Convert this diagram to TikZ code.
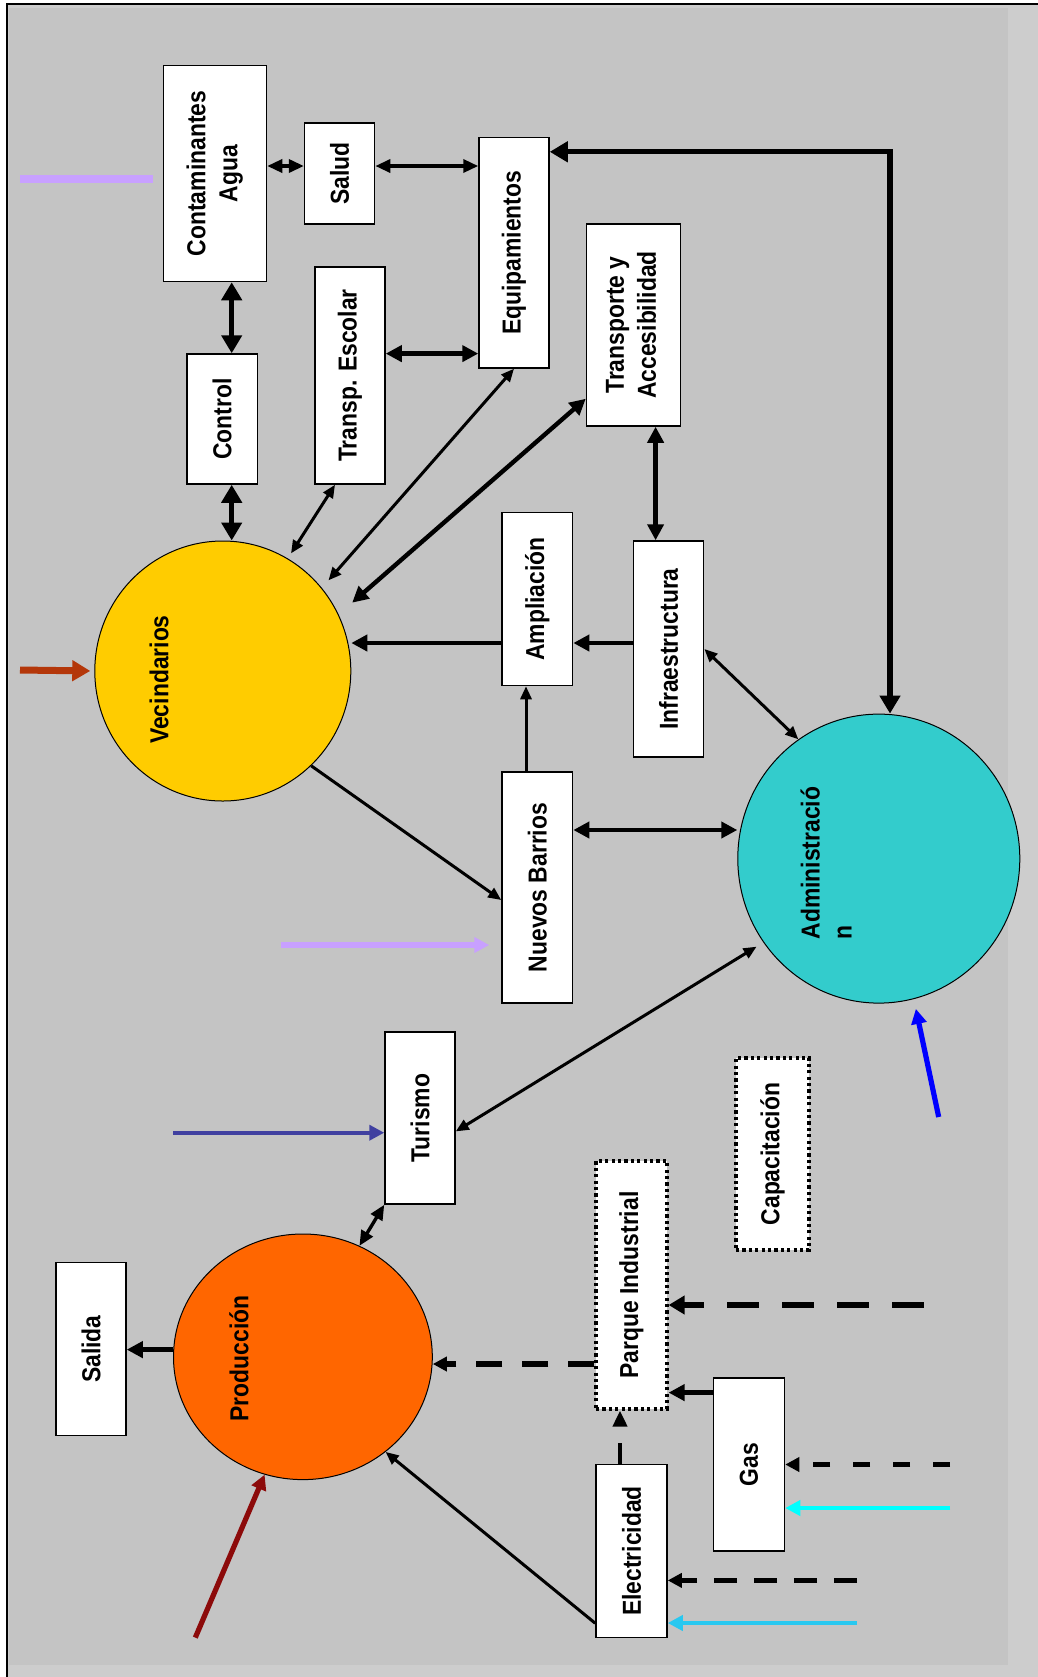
\documentclass[tikz,border=0pt]{standalone}
\usepackage{fontspec}
\usepackage{graphicx}
\usetikzlibrary{arrows.meta,shapes.geometric}
\newfontfamily\labfont{Liberation Sans}[FakeStretch=0.88]
\definecolor{bgA}{RGB}{196,196,196}
\definecolor{bgB}{RGB}{205,205,205}
\definecolor{vecY}{RGB}{255,204,0}
\definecolor{admC}{RGB}{51,204,204}
\definecolor{prodO}{RGB}{255,102,0}
\definecolor{lav}{RGB}{200,160,255}
\definecolor{rust}{RGB}{180,55,10}
\definecolor{dred}{RGB}{140,10,10}
\definecolor{navyP}{RGB}{64,64,160}
\definecolor{skyB}{RGB}{40,200,240}
\definecolor{cyanB}{RGB}{0,255,255}
\definecolor{pureB}{RGB}{0,0,255}
\tikzset{
  every node/.style={font={\labfont\bfseries\fontsize{13pt}{16pt}\selectfont}, text=black},
  box/.style={draw=black, line width=0.75pt, fill=white, inner sep=0pt},
  dbox/.style={draw=black, line width=1.6pt, dash pattern=on 1.6pt off 1.6pt, fill=white, inner sep=0pt},
  circ/.style={ellipse, draw=black, line width=0.5pt, inner sep=0pt},
  thinA/.style={line width=1.5pt, >={Triangle[length=6.5pt,width=5.5pt]}},
  medA/.style={line width=1.7pt, >={Triangle[length=7.5pt,width=6.5pt]}},
  thickA/.style={line width=2.2pt, >={Triangle[length=8pt,width=8pt]}},
  heavyA/.style={line width=2.6pt, >={Triangle[length=9pt,width=10pt]}},
  colA/.style={line width=2.2pt, >={Triangle[length=7.5pt,width=7.5pt]}},
  dashU/.style={line width=3.4pt, dash pattern=on 15.8pt off 11.7pt, >={Triangle[length=8pt,width=9pt]}},
  dashX/.style={line width=2.6pt, dash pattern=on 8.3pt off 11.7pt, >={Triangle[length=7pt,width=7pt]}},
  dashZ/.style={line width=2.8pt, dash pattern=on 11.7pt off 8.3pt, >={Triangle[length=7pt,width=7pt]}},
  dashA/.style={line width=2.6pt, dash pattern=on 13pt off 10pt, >={Triangle[length=7pt,width=7pt]}},
  dashW/.style={line width=2pt, dash pattern=on 10.5pt off 9pt, >={Triangle[length=8pt,width=7pt]}},
}
\begin{document}
\begin{tikzpicture}[x=0.5pt,y=-0.5pt]
\useasboundingbox (0,0) rectangle (1038,1677);
% background
\fill[white] (0,0) rectangle (1038,1677);
\fill[bgB] (7,4) rectangle (1038,1677);
\fill[bgA] (9,8) rectangle (1008,1665);
\draw[line width=1pt] (7,1677) -- (7,4) -- (1038,4);

% boxes
\node[box, minimum width=51.5pt, minimum height=108pt] (cont) at (215,173.5)
  {\rotatebox{90}{\begin{tabular}{@{}c@{}}Contaminantes\\Agua\end{tabular}}};
\node[box, minimum width=35pt, minimum height=50.5pt] (salud) at (339.6,173.5) {\rotatebox{90}{Salud}};
\node[box, minimum width=35pt, minimum height=115.25pt] (equip) at (514,252.7) {\rotatebox{90}{Equipamientos}};
\node[box, minimum width=35pt, minimum height=108.5pt] (transp) at (350,375.5) {\rotatebox{90}{Transp. Escolar}};
\node[box, minimum width=35.25pt, minimum height=65pt] (control) at (222,419) {\rotatebox{90}{Control}};
\node[box, minimum width=47pt, minimum height=101pt] (trans) at (633.5,325)
  {\rotatebox{90}{\begin{tabular}{@{}c@{}}Transporte y\\Accesibilidad\end{tabular}}};
\node[box, minimum width=35.3pt, minimum height=86.5pt] (ampl) at (537.3,599) {\rotatebox{90}{Ampliación}};
\node[box, minimum width=35pt, minimum height=108pt] (infra) at (668.6,649) {\rotatebox{90}{Infraestructura}};
\node[box, minimum width=35.3pt, minimum height=115.5pt] (nuevos) at (537.3,887.5) {\rotatebox{90}{Nuevos Barrios}};
\node[box, minimum width=35pt, minimum height=86pt] (turismo) at (420,1118) {\rotatebox{90}{Turismo}};
\node[box, minimum width=35pt, minimum height=86.5pt] (salida) at (91,1349) {\rotatebox{90}{Salida}};
\node[dbox, minimum width=35.5pt, minimum height=124pt] (parque) at (631.5,1285) {\rotatebox{90}{Parque Industrial}};
\node[dbox, minimum width=36.5pt, minimum height=96pt] (capac) at (772.5,1154) {\rotatebox{90}{Capacitación}};
\node[box, minimum width=35.5pt, minimum height=86.5pt] (gas) at (749,1464.5) {\rotatebox{90}{Gas}};
\node[box, minimum width=35.5pt, minimum height=86.5pt] (elec) at (631.5,1551) {\rotatebox{90}{Electricidad}};

% circles
\node[circ, fill=vecY, minimum width=128pt, minimum height=130pt] (vec) at (222.8,671) {};
\node[rotate=90] (vectxt) at (159,679.5) {Vecindarios};
\node[circ, fill=admC, minimum width=141pt, minimum height=144.5pt] (admin) at (878.8,858.6) {};
\node[rotate=90, align=left] (admtxt) at (826,863) {Administració\\n};
\node[circ, fill=prodO, minimum width=129.4pt, minimum height=122.8pt] (prod) at (302.9,1356.8) {};
\node[rotate=90] (prodtxt) at (239,1358.5) {Producción};

% helper coordinates
\coordinate (ya) at (0,166);
\coordinate (xc) at (231.7,0);
\coordinate (ye) at (0,353.6);
\coordinate (xi) at (655.6,0);
\coordinate (yj) at (0,643);
\coordinate (xl) at (526,0);
\coordinate (yn) at (0,830);
\coordinate (xp) at (890,0);
\coordinate (yp) at (0,151.8);
\coordinate (ys) at (0,1349.6);
\coordinate (yt) at (0,1364);
\coordinate (yu) at (0,1305);
\coordinate (yv) at (0,1392.6);
\coordinate (xw) at (620,0);
\coordinate (yy) at (0,1508);
\coordinate (yz) at (0,1580.4);
\coordinate (yaa) at (0,1623);
\coordinate (yee) at (0,1132.7);
\coordinate (yff) at (0,945);
\coordinate (ygg) at (0,179);
% free ends
\coordinate (uS) at (923.5,1305);
\coordinate (xS) at (950,1464.5);
\coordinate (yS) at (950,1508);
\coordinate (zS) at (857,1580.4);
\coordinate (aaS) at (857,1623);
\coordinate (ccS) at (195.3,1637.6);
\coordinate (ddS) at (938.7,1117);
\coordinate (eeS) at (173.4,1132.7);
\coordinate (ffS) at (281,945);
\coordinate (ggS) at (20,179);
\coordinate (hhS) at (20,670);

% connectors
\draw[medA,<->] (cont.east |- ya) -- (salud.west |- ya);
\draw[medA,<->] (salud.east |- ya) -- (equip.west |- ya);
\draw[heavyA,<->] (cont.south -| xc) -- (control.north -| xc);
\draw[heavyA,<->] (control.south -| xc) -- (vec.north -| xc);
\draw[thickA,<->] (transp.east |- ye) -- (equip.west |- ye);
\draw[thinA,<->,shorten >=3pt] ([xshift=-7.5pt]transp.south) -- (vec.60);
\draw[thinA,<->,shorten >=5pt] (equip.south) -- (vec.40);
\draw[thickA,<->,shorten >=9pt] ([yshift=14pt]trans.south west) -- (vec.26);
\draw[thickA,<->] (trans.south -| xi) -- (infra.north -| xi);
\draw[thickA,->] (infra.west |- yj) -- (ampl.east |- yj);
\draw[thickA,->] (ampl.west |- yj) -- (vec.east |- yj);
\draw[thinA,->] (nuevos.north -| xl) -- (ampl.south -| xl);
\draw[thinA,->] (vec.-47) -- ([yshift=-6.25pt]nuevos.west);
\draw[thickA,<->] (nuevos.east |- yn) -- (admin.west |- yn);
\draw[thinA,<->] (infra.east) -- (admin.124);
\draw[heavyA,<->] (equip.east |- yp) -| (admin.north -| xp);
\draw[thinA,<->,shorten <=4pt] (admin.216) -- ([yshift=-6.7pt]turismo.east);
\draw[medA,<->] (turismo.south west) -- (prod.63);
\draw[thickA,->] (prod.west |- ys) -- (salida.east |- ys);
\draw[dashA,->] (parque.west |- yt) -- (prod.east |- yt);
\draw[dashU,->] (uS) -- (parque.east |- yu);
\draw[thickA,->] (gas.west |- yv) -- (parque.east |- yv);
\draw[dashW,->] (elec.north -| xw) -- (parque.south -| xw);
\draw[dashX,->] (xS) -- (gas.east);
\draw[colA,cyanB,->] (yS) -- (gas.east |- yy);
\draw[dashZ,->] (zS) -- (elec.east |- yz);
\draw[colA,skyB,->] (aaS) -- (elec.east |- yaa);
\draw[thinA,->] ([yshift=7.5pt]elec.south west) -- (prod.-49);
\draw[colA,dred,line width=2.6pt,->] (ccS) -- (prod.-108);
\draw[colA,pureB,line width=2.6pt,->,shorten >=5pt] (ddS) -- (admin.-76);
\draw[colA,navyP,line width=2pt,->] (eeS) -- (turismo.west |- yee);
\draw[colA,lav,line width=3pt,->,shorten >=6pt] (ffS) -- (nuevos.west |- yff);
\draw[lav,line width=4pt,shorten >=5pt] (ggS) -- (cont.west |- ygg);
\draw[rust,line width=3.5pt,>={Triangle[length=9pt,width=10pt]},->,shorten >=2pt] (hhS) -- (vec.west);
\end{tikzpicture}
\end{document}
